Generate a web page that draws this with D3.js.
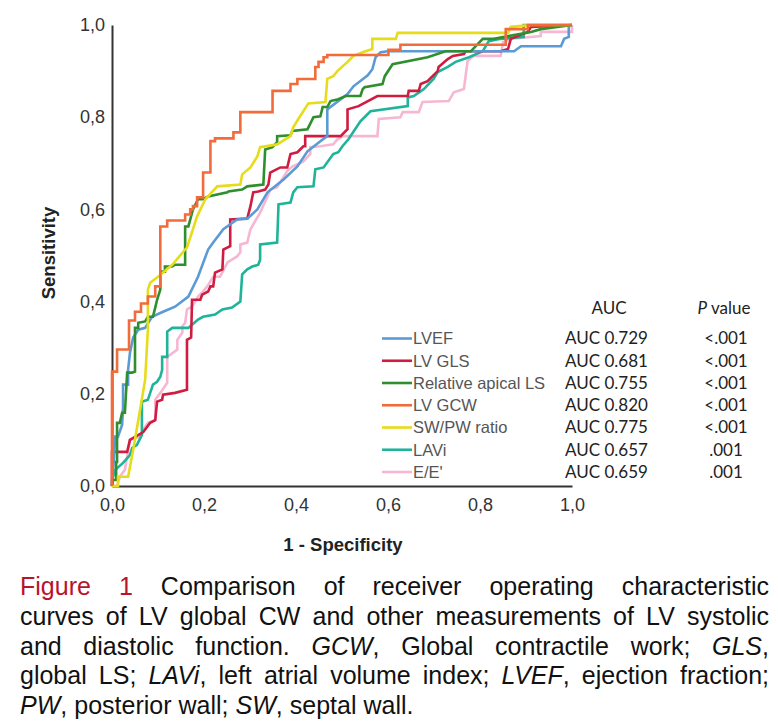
<!DOCTYPE html>
<html>
<head>
<meta charset="UTF-8">
<title>ROC curves</title>
<style>
    body { margin: 0; background: #fff; }
    svg { display: block; }
    .axis path { stroke: #333; stroke-width: 2; }
    .axis line { display: none; }
    .axis text { font-family: "Liberation Sans", Arial, sans-serif; font-size: 18px; fill: #333; }
</style>
</head>
<body>
<script src="https://cdn.jsdelivr.net/npm/d3@7"></script>
<script>
    // series names, AUC and p values (legend table)
    var names = ["LVEF", "LV GLS", "Relative apical LS", "LV GCW", "SW/PW ratio", "LAVi", "E/E'"];
    var aucValues = [0.729, 0.681, 0.755, 0.820, 0.775, 0.657, 0.659];
    var pValues = ["<.001", "<.001", "<.001", "<.001", "<.001", ".001", ".001"];
    var tickValues = [0, 0.2, 0.4, 0.6, 0.8, 1.0];

    // ROC points [1 - specificity, sensitivity]
    var lvef = [[0,0],[.004,.057],[.007,.107],[.013,.107],[.022,.133],[.024,.170],[.024,.220],[.035,.220],[.035,.252],[.039,.289],[.046,.322],[.057,.339],[.072,.343],[.087,.367],[.111,.378],[.137,.389],[.166,.411],[.187,.454],[.209,.513],[.220,.528],[.242,.557],[.272,.578],[.294,.580],[.316,.600],[.338,.637],[.373,.665],[.403,.693],[.425,.726],[.453,.748],[.468,.759],[.468,.817],[.512,.850],[.525,.867],[.556,.891],[.566,.904],[.573,.930],[.584,.941],[.599,.943],[.874,.943],[.889,.954],[.976,.954],[.983,.970],[.993,.974],[.993,.998],[1,1]];
    var lvGls = [[0,0],[0,.074],[.033,.074],[.039,.100],[.068,.117],[.083,.137],[.094,.143],[.098,.183],[.109,.187],[.111,.198],[.137,.202],[.163,.209],[.163,.317],[.172,.322],[.174,.404],[.192,.404],[.196,.415],[.209,.422],[.214,.433],[.220,.433],[.224,.463],[.240,.470],[.242,.513],[.257,.520],[.257,.578],[.294,.580],[.301,.607],[.307,.637],[.318,.639],[.333,.643],[.340,.654],[.344,.680],[.366,.691],[.381,.691],[.388,.720],[.403,.724],[.416,.737],[.420,.737],[.420,.759],[.497,.759],[.512,.774],[.512,.817],[.536,.824],[.577,.846],[.643,.846],[.645,.857],[.667,.857],[.671,.872],[.686,.878],[.708,.900],[.710,.909],[.730,.926],[.741,.933],[.765,.937],[.769,.943],[.845,.943],[.861,.948],[.867,.970],[.904,.985],[.911,.996],[1,1]];
    var apicalLs = [[0,0],[.002,.013],[.009,.013],[.009,.052],[.011,.052],[.011,.137],[.017,.137],[.022,.159],[.028,.159],[.033,.246],[.044,.246],[.050,.248],[.050,.343],[.057,.343],[.057,.354],[.072,.357],[.078,.367],[.089,.367],[.094,.387],[.098,.404],[.105,.426],[.105,.465],[.115,.465],[.115,.476],[.131,.476],[.137,.480],[.159,.480],[.159,.563],[.166,.563],[.176,.600],[.187,.622],[.198,.622],[.209,.628],[.251,.637],[.253,.639],[.283,.643],[.294,.650],[.329,.654],[.333,.730],[.349,.735],[.359,.746],[.359,.759],[.388,.761],[.392,.770],[.425,.774],[.438,.800],[.453,.802],[.458,.822],[.468,.822],[.475,.835],[.492,.839],[.508,.846],[.540,.846],[.545,.861],[.549,.865],[.588,.872],[.593,.889],[.606,.909],[.610,.915],[.686,.930],[.725,.943],[.780,.943],[.806,.970],[.830,.970],[.911,.985],[.932,.991],[1,1]];
    var lvGcw = [[0,0],[0,.248],[.011,.248],[.011,.296],[.037,.296],[.037,.359],[.050,.359],[.050,.378],[.063,.378],[.063,.396],[.078,.396],[.078,.411],[.094,.411],[.094,.433],[.105,.433],[.105,.563],[.120,.563],[.120,.576],[.159,.576],[.159,.589],[.170,.589],[.170,.600],[.176,.600],[.176,.607],[.185,.607],[.185,.626],[.198,.626],[.198,.680],[.214,.680],[.214,.748],[.224,.748],[.224,.754],[.264,.754],[.264,.767],[.279,.767],[.279,.811],[.349,.811],[.349,.857],[.388,.857],[.388,.872],[.403,.872],[.403,.883],[.442,.883],[.442,.909],[.449,.909],[.449,.920],[.460,.920],[.460,.930],[.468,.930],[.468,.935],[.601,.935],[.601,.946],[.627,.946],[.627,.957],[.856,.957],[.856,.991],[.904,.991],[.904,1],[1,1]];
    var swPwRatio = [[0,0],[.013,0],[.013,.020],[.035,.020],[.046,.078],[.061,.165],[.072,.230],[.078,.339],[.078,.426],[.083,.441],[.100,.454],[.131,.480],[.159,.513],[.163,.517],[.185,.585],[.203,.622],[.229,.650],[.279,.654],[.283,.676],[.301,.691],[.316,.715],[.322,.735],[.359,.741],[.388,.759],[.394,.778],[.405,.796],[.427,.830],[.464,.833],[.468,.883],[.481,.889],[.490,.900],[.512,.920],[.525,.933],[.545,.941],[.566,.948],[.566,.970],[.617,.970],[.621,.983],[.861,.983],[.867,.996],[.911,1],[1,1]];
    var lavi = [[0,0],[0,.013],[.007,.035],[.024,.050],[.039,.067],[.044,.083],[.054,.089],[.065,.111],[.065,.183],[.078,.187],[.089,.220],[.098,.226],[.105,.237],[.109,.252],[.109,.280],[.120,.280],[.120,.335],[.131,.343],[.166,.343],[.174,.350],[.187,.361],[.198,.367],[.224,.372],[.240,.383],[.261,.387],[.279,.400],[.283,.459],[.294,.470],[.305,.476],[.318,.480],[.322,.491],[.322,.524],[.359,.528],[.362,.611],[.388,.615],[.394,.637],[.403,.648],[.438,.650],[.442,.687],[.460,.691],[.481,.720],[.492,.724],[.501,.737],[.514,.752],[.540,.791],[.562,.813],[.643,.824],[.643,.843],[.656,.846],[.678,.861],[.699,.883],[.708,.898],[.730,.909],[.747,.920],[.776,.930],[.806,.943],[.819,.965],[.845,.970],[.895,.974],[.895,1],[1,1]];
    var eE = [[0,0],[.011,0],[.017,.020],[.028,.035],[.039,.100],[.061,.107],[.068,.122],[.078,.137],[.094,.143],[.094,.187],[.105,.202],[.120,.224],[.120,.280],[.142,.296],[.142,.317],[.153,.333],[.153,.346],[.159,.354],[.163,.383],[.174,.389],[.187,.411],[.196,.420],[.207,.433],[.220,.454],[.235,.454],[.251,.485],[.272,.498],[.279,.507],[.279,.524],[.294,.528],[.301,.557],[.322,.593],[.338,.628],[.344,.643],[.359,.648],[.381,.683],[.392,.693],[.403,.698],[.416,.704],[.431,.720],[.431,.735],[.453,.737],[.481,.741],[.490,.752],[.503,.759],[.577,.759],[.580,.796],[.627,.800],[.632,.811],[.667,.811],[.675,.833],[.732,.835],[.743,.854],[.765,.861],[.773,.922],[.786,.933],[.845,.933],[.850,.963],[.867,.970],[.932,.976],[.932,.985],[1,.985],[1,1]];

    var seriesData = [lvef, lvGls, apicalLs, lvGcw, swPwRatio, lavi, eE];
    var colors = ["#5b9bd5", "#d01c40", "#2f8f2f", "#f26b3a", "#e6dc1a", "#1fb39a", "#f7b7d3"];
    var drawOrder = [6, 5, 1, 0, 2, 4, 3]; // pink at the back, GCW on top

    // caption, *...* = italic, #...# = red
    var captionLines = [
        "#Figure# #1# Comparison of receiver operating characteristic",
        "curves of LV global CW and other measurements of LV systolic",
        "and diastolic function. *GCW*, Global contractile work; *GLS*,",
        "global LS; *LAVi*, left atrial volume index; *LVEF*, ejection fraction;",
        "*PW*, posterior wall; *SW*, septal wall."
    ];

    var svg = d3.select("body").append("svg")
        .attr("width", 778)
        .attr("height", 721);

    var x = d3.scaleLinear().domain([0, 1]).range([112, 572]);
    var y = d3.scaleLinear().domain([0, 1]).range([486, 25]);
    var fmt = function (d) { return d3.format(".1f")(d).replace(".", ","); };

    svg.append("g")
        .attr("class", "axis")
        .attr("transform", "translate(0,486)")
        .call(d3.axisBottom(x).tickValues(tickValues).tickSize(0).tickPadding(12).tickFormat(fmt));

    svg.append("g")
        .attr("class", "axis")
        .attr("transform", "translate(112,0)")
        .call(d3.axisLeft(y).tickValues(tickValues).tickSize(0).tickPadding(7).tickFormat(fmt));

    // axis titles
    svg.append("text")
        .attr("x", 343).attr("y", 551)
        .attr("text-anchor", "middle")
        .style("font-family", "'Liberation Sans', Arial, sans-serif")
        .style("font-weight", "bold").style("font-size", "18.5px").style("fill", "#222")
        .text("1 - Specificity");

    svg.append("text")
        .attr("transform", "translate(55,253) rotate(-90)")
        .attr("text-anchor", "middle")
        .style("font-family", "'Liberation Sans', Arial, sans-serif")
        .style("font-weight", "bold").style("font-size", "18.5px").style("fill", "#222")
        .text("Sensitivity");

    // ROC curves
    var line = d3.line()
        .x(function (d) { return x(d[0]); })
        .y(function (d) { return y(d[1]); });

    svg.append("g").selectAll("path")
        .data(drawOrder)
        .enter().append("path")
        .attr("d", function (i) { return line(seriesData[i]); })
        .attr("fill", "none")
        .attr("stroke", function (i) { return colors[i]; })
        .attr("stroke-width", 2.6)
        .attr("stroke-linejoin", "miter");

    // legend table
    var rowY = d3.scaleLinear().domain([0, 6]).range([338.5, 472]);
    var leg = svg.append("g");

    leg.append("text")
        .attr("x", 609).attr("y", 308).attr("dy", "0.35em")
        .attr("text-anchor", "middle")
        .style("font-family", "Lato, sans-serif").style("font-size", "17px").style("fill", "#222")
        .text("AUC");
    var ph = leg.append("text")
        .attr("x", 724).attr("y", 308).attr("dy", "0.35em")
        .attr("text-anchor", "middle")
        .style("font-family", "Lato, sans-serif").style("font-size", "17px").style("fill", "#222");
    ph.append("tspan").style("font-style", "italic").text("P");
    ph.append("tspan").text(" value");

    var rows = leg.selectAll(".row")
        .data(names)
        .enter().append("g")
        .attr("class", "row")
        .attr("transform", function (d, i) { return "translate(0," + rowY(i) + ")"; });

    rows.append("line")
        .attr("x1", 382).attr("x2", 412)
        .attr("stroke", function (d, i) { return colors[i]; })
        .attr("stroke-width", 2.6);

    rows.append("text")
        .attr("x", 413).attr("dy", "0.35em")
        .style("font-family", "'Liberation Sans', Arial, sans-serif")
        .style("font-size", "16.5px").style("fill", "#555")
        .text(function (d) { return d; });

    rows.append("text")
        .attr("x", 565).attr("dy", "0.35em")
        .style("font-family", "Lato, sans-serif").style("font-size", "17px").style("fill", "#222")
        .text(function (d, i) { return "AUC " + d3.format(".3f")(aucValues[i]); });

    rows.append("text")
        .attr("x", 726).attr("dy", "0.35em")
        .attr("text-anchor", "middle")
        .style("font-family", "Lato, sans-serif").style("font-size", "17px").style("fill", "#222")
        .text(function (d, i) { return pValues[i]; });

    // caption, justified word by word
    var capLeft = 20, capRight = 769;
    var cap = svg.append("g")
        .style("font-family", "'Liberation Sans', Arial, sans-serif")
        .style("font-size", "25px").style("fill", "#111");

    captionLines.forEach(function (str, li) {
        var baseline = 595 + li * 29.75;
        var words = str.split(" ");
        var nodes = words.map(function (w) {
            var t = cap.append("text").attr("y", baseline);
            (w.match(/\*[^*]+\*|#[^#]+#|[^*#]+/g) || []).forEach(function (seg) {
                var ts = t.append("tspan");
                if (seg[0] === "*") {
                    ts.style("font-style", "italic").text(seg.slice(1, -1));
                } else if (seg[0] === "#") {
                    ts.style("fill", "#b8142c").text(seg.slice(1, -1));
                } else {
                    ts.text(seg);
                }
            });
            return t;
        });
        var widths = nodes.map(function (t) { return t.node().getComputedTextLength(); });
        var total = d3.sum(widths);
        var last = li === captionLines.length - 1;
        var gap = last ? 7 : (capRight - capLeft - total) / (words.length - 1);
        var pos = capLeft;
        nodes.forEach(function (t, i) {
            t.attr("x", pos);
            pos += widths[i] + gap;
        });
    });
</script>
</body>
</html>
